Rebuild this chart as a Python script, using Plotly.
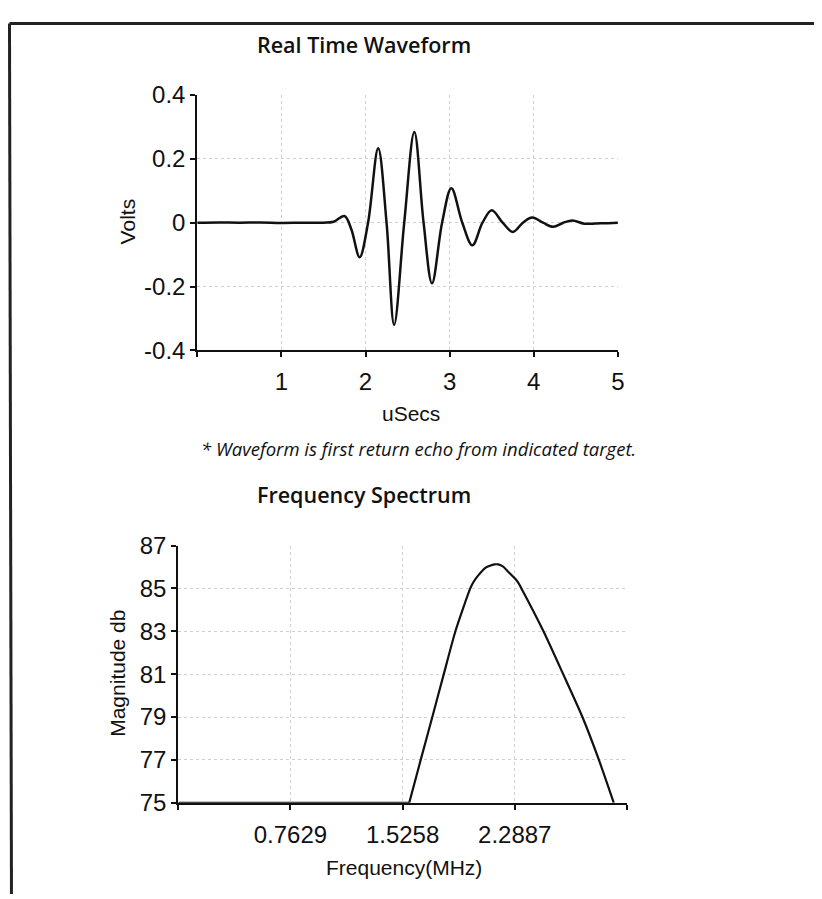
import plotly.graph_objects as go

# ---- Data ----
wave_t = [0.0, 0.25, 0.5, 0.75, 1.0, 1.25, 1.5, 1.62, 1.75, 1.83, 1.93, 2.03, 2.15,
          2.25, 2.34, 2.46, 2.58, 2.69, 2.79, 2.91, 3.02, 3.15, 3.27, 3.39, 3.50,
          3.63, 3.75, 3.87, 3.98, 4.11, 4.23, 4.35, 4.46, 4.6, 4.8, 5.0]
wave_v = [0.0, 0.001, 0.0, 0.001, -0.001, 0.0, 0.0, 0.003, 0.021, -0.02, -0.108, 0.0, 0.233,
          0.0, -0.32, 0.0, 0.284, 0.0, -0.19, 0.0, 0.108, 0.0, -0.071, 0.0, 0.039,
          0.0, -0.029, 0.0, 0.016, 0.0, -0.013, 0.0, 0.007, -0.003, -0.002, 0.0]

spec_f = [0.0, 1.571, 1.649, 1.728, 1.806, 1.885, 1.986, 2.008, 2.042, 2.091, 2.12, 2.150, 2.176,
          2.210, 2.244, 2.2887, 2.311, 2.334, 2.484, 2.618, 2.749, 2.861, 2.962]
spec_db = [75, 75, 77, 79, 81, 83, 85, 85.3, 85.62, 85.97, 86.06, 86.12, 86.12,
           86.02, 85.78, 85.47, 85.28, 85, 83, 81, 79, 77, 75]

wave_xticks = [0, 1, 2, 3, 4, 5]
wave_xlabels = ["", "1", "2", "3", "4", "5"]
wave_yticks = [-0.4, -0.2, 0, 0.2, 0.4]
wave_ylabels = ["-0.4", "-0.2", "0", "0.2", "0.4"]

spec_xticks = [0, 0.7629, 1.5258, 2.2887, 3.0516]
spec_xlabels = ["", "0.7629", "1.5258", "2.2887", ""]
spec_yticks = [75, 77, 79, 81, 83, 85, 87]
spec_ylabels = ["75", "77", "79", "81", "83", "85", "87"]

W, H = 822, 899
# layout positions are given in screen pixels of the target picture and converted
# to figure-paper fractions (page offset/scale measured on the rendered output)
def px(xs):
    return ((xs - 8) / 0.99) / W
def py(ys):
    return 1 - ((ys - 21) / 0.969) / H

TICKFONT = dict(family="Liberation Sans, Arial", size=24, color="#111")
GRID = "#cfcfcf"

fig = go.Figure()
fig.add_trace(go.Scatter(x=wave_t, y=wave_v, mode="lines",
                         line=dict(color="#111", width=2.5, shape="spline", smoothing=1.0),
                         xaxis="x", yaxis="y", showlegend=False))
# flat baseline part of the spectrum, then the smooth hump
fig.add_trace(go.Scatter(x=spec_f[:2], y=spec_db[:2], mode="lines",
                         line=dict(color="#111", width=2.2, shape="linear"),
                         xaxis="x2", yaxis="y2", showlegend=False))
fig.add_trace(go.Scatter(x=spec_f[1:], y=spec_db[1:], mode="lines",
                         line=dict(color="#111", width=2.2, shape="spline", smoothing=0.6),
                         xaxis="x2", yaxis="y2", showlegend=False))

axcommon = dict(showline=True, linecolor="#111", linewidth=2, ticks="outside", ticklen=5,
                tickwidth=1.5, tickcolor="#111", showgrid=True, gridcolor=GRID, griddash="dot",
                gridwidth=1, zeroline=False, tickfont=TICKFONT, tickmode="array", mirror=False)

fig.update_layout(
    width=W, height=H, margin=dict(l=0, r=0, t=0, b=0, pad=0), autosize=False,
    paper_bgcolor="white", plot_bgcolor="white",
    xaxis=dict(domain=[px(197), px(617)], range=[0, 5], tickvals=wave_xticks,
               ticktext=wave_xlabels, anchor="y", ticklabelstandoff=4, **axcommon),
    yaxis=dict(domain=[py(349), py(94)], range=[-0.4, 0.4], tickvals=wave_yticks,
               ticktext=wave_ylabels, anchor="x", ticklabelstandoff=0, **axcommon),
    xaxis2=dict(domain=[px(178), px(626)], range=[0, 3.0516], tickvals=spec_xticks,
                ticktext=spec_xlabels, anchor="y2", ticklabelstandoff=4, **axcommon),
    yaxis2=dict(domain=[py(801), py(544)], range=[75, 87], tickvals=spec_yticks,
                ticktext=spec_ylabels, anchor="x2", ticklabelstandoff=0, **axcommon),
)

TITLEFONT = dict(family="Open Sans", size=21.5, color="#111", weight=600)
AXFONT = dict(family="Liberation Sans, Arial", size=21, color="#111")

ann = [
    dict(text="Real Time Waveform", x=px(363), y=py(43), font=TITLEFONT),
    dict(text="Volts", x=px(127), y=py(220), font=AXFONT, textangle=-90),
    dict(text="uSecs", x=px(410), y=py(412), font=AXFONT),
    dict(text="<i>* Waveform is first return echo from indicated target.</i>", x=px(418), y=py(447),
         font=dict(family="Open Sans", size=18.5, color="#111")),
    dict(text="Frequency Spectrum", x=px(363), y=py(493), font=TITLEFONT),
    dict(text="Magnitude db", x=px(117), y=py(672), font=AXFONT, textangle=-90),
    dict(text="Frequency(MHz)", x=px(403), y=py(866), font=AXFONT),
]
for a in ann:
    fig.add_annotation(xref="paper", yref="paper", showarrow=False,
                       xanchor="center", yanchor="middle", **a)

# page border (top and left edges of the scanned page)
fig.add_shape(type="line", xref="paper", yref="paper", x0=1.5 / W, y0=1 - 1.5 / H, x1=1, y1=1 - 1.5 / H,
              line=dict(color="#222", width=3))
fig.add_shape(type="line", xref="paper", yref="paper", x0=1.5 / W, y0=1 - 1.5 / H, x1=3.5 / W, y1=0,
              line=dict(color="#222", width=3))

fig.write_html("out.html")
